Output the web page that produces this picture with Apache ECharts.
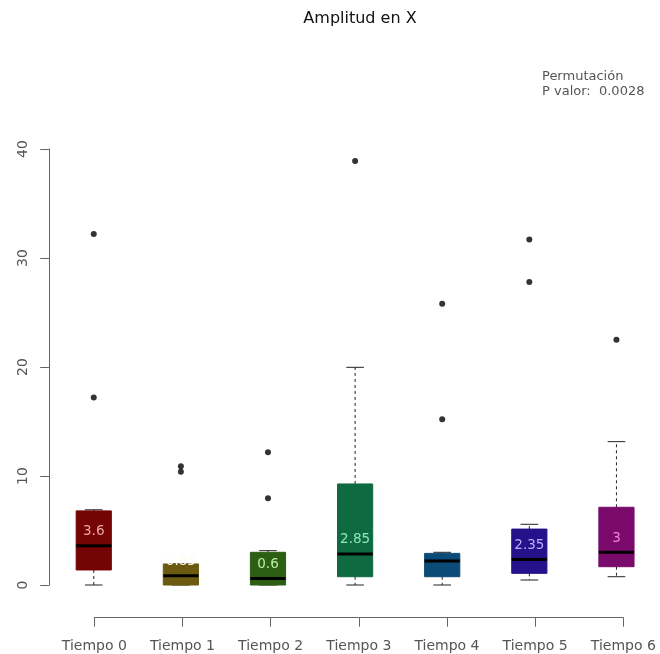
<!DOCTYPE html>
<html>
<head>
<meta charset="utf-8">
<script src="https://cdn.jsdelivr.net/npm/echarts@6/dist/echarts.min.js"></script>
<style>html,body{margin:0;padding:0;background:#fff;}#c{width:660px;height:654px;}</style>
</head>
<body>
<div id="c"></div>
<script>
const categories = ['Tiempo 0','Tiempo 1','Tiempo 2','Tiempo 3','Tiempo 4','Tiempo 5','Tiempo 6'];
const lowWhisker = [0, 0, 0, 0, 0, 0.46, 0.76];
const q1 = [1.38, 0, 0, 0.76, 0.76, 1.07, 1.68];
const medians = [3.6, 0.85, 0.6, 2.85, 2.2, 2.35, 3];
const q3 = [6.8, 1.93, 3.0, 9.27, 2.9, 5.13, 7.13];
const highWhisker = [6.9, 1.93, 3.15, 19.97, 3.0, 5.57, 13.15];
const outliers = [[0,17.2],[0,32.2],[1,10.4],[1,10.9],[2,7.95],[2,12.17],[3,38.9],[4,15.2],[4,25.8],[5,27.8],[5,31.7],[6,22.5]];
const yTicks = [0, 10, 20, 30, 40];
const boxColors = ['#750505','#6b5a10','#2c5e14','#0e6a40','#0c4a78','#25128a','#7a0a6c'];
const labelColors = ['#f0a8a8','#fdfbef','#b8f0a0','#90e8b8','#fdfeff','#b8b0ff','#f080e0'];
const titleText = 'Amplitud en X';
const noteLines = ['Permutación', 'P valor:  0.0028'];

const FONT = 'DejaVu Sans';
const boxData = categories.map((c, i) => [i, lowWhisker[i], q1[i], medians[i], q3[i], highWhisker[i]]);

function renderBox(params, api) {
  const i = api.value(0);
  const cx = api.coord([i, 0])[0];
  const band = api.size([1, 0])[0];
  const bw = band * 0.404;
  const cap = bw / 2;
  const y = v => api.coord([i, v])[1];
  const yl = y(api.value(1)), yq1 = y(api.value(2)), ym = y(api.value(3)), yq3 = y(api.value(4)), yh = y(api.value(5));
  const wStyle = {stroke: '#222', lineWidth: 1, lineDash: [3, 3]};
  const cStyle = {stroke: '#222', lineWidth: 1};
  return {
    type: 'group',
    children: [
      {type: 'line', shape: {x1: cx, y1: yq3, x2: cx, y2: yh}, style: wStyle},
      {type: 'line', shape: {x1: cx, y1: yq1, x2: cx, y2: yl}, style: wStyle},
      {type: 'line', shape: {x1: cx - cap/2, y1: yh, x2: cx + cap/2, y2: yh}, style: cStyle},
      {type: 'line', shape: {x1: cx - cap/2, y1: yl, x2: cx + cap/2, y2: yl}, style: cStyle},
      {type: 'rect', shape: {x: cx - bw/2, y: yq3, width: bw, height: yq1 - yq3},
        style: {fill: boxColors[i], stroke: boxColors[i], lineWidth: 1}},
      {type: 'line', shape: {x1: cx - bw/2, y1: ym, x2: cx + bw/2, y2: ym}, style: {stroke: '#000', lineWidth: 3}},
      {type: 'text', x: cx, y: ym - 14,
        style: {text: String(medians[i]), fill: labelColors[i], fontSize: 13.5, fontFamily: FONT,
          align: 'center', verticalAlign: 'middle'}}
    ]
  };
}

const chart = echarts.init(document.getElementById('c'), null, {renderer: 'canvas'});
chart.setOption({
  animation: false,
  backgroundColor: '#fff',
  grid: [
    {left: 50.2, top: 149, width: 617.2, height: 436, containLabel: false},
    {left: 94.3, top: 590, width: 529, height: 27.7, containLabel: false}
  ],
  xAxis: [
    {type: 'category', gridIndex: 0, data: categories, show: false},
    {type: 'category', gridIndex: 1, data: categories, boundaryGap: false,
      axisLine: {lineStyle: {color: '#666', width: 1}},
      axisTick: {show: true, length: 9, alignWithLabel: true, lineStyle: {color: '#666'}},
      axisLabel: {color: '#555', fontSize: 14, fontFamily: FONT, margin: 22, interval: 0},
      splitLine: {show: false}}
  ],
  yAxis: [
    {type: 'value', gridIndex: 0, min: yTicks[0], max: yTicks[yTicks.length - 1], interval: 10, offset: 1,
      axisLine: {show: true, lineStyle: {color: '#666', width: 1}},
      axisTick: {show: true, length: 9, lineStyle: {color: '#666'}},
      axisLabel: {color: '#555', fontSize: 14, fontFamily: FONT, rotate: 90, margin: 19},
      splitLine: {show: false}},
    {type: 'value', gridIndex: 1, show: false}
  ],
  graphic: [
    {type: 'text', x: 360, y: 19, style: {text: titleText, fill: '#111', fontSize: 16, fontFamily: FONT,
      align: 'center', verticalAlign: 'middle'}},
    {type: 'text', x: 542, y: 77, style: {text: noteLines[0], fill: '#555', fontSize: 13, fontFamily: FONT,
      align: 'left', verticalAlign: 'middle'}},
    {type: 'text', x: 542, y: 92, style: {text: noteLines[1], fill: '#555', fontSize: 13, fontFamily: FONT,
      align: 'left', verticalAlign: 'middle'}}
  ],
  series: [
    {type: 'custom', xAxisIndex: 0, yAxisIndex: 0, renderItem: renderBox, data: boxData, clip: false},
    {type: 'scatter', xAxisIndex: 0, yAxisIndex: 0, data: outliers, symbol: 'circle', symbolSize: 6,
      itemStyle: {color: '#000'}}
  ]
});
</script>
</body>
</html>
